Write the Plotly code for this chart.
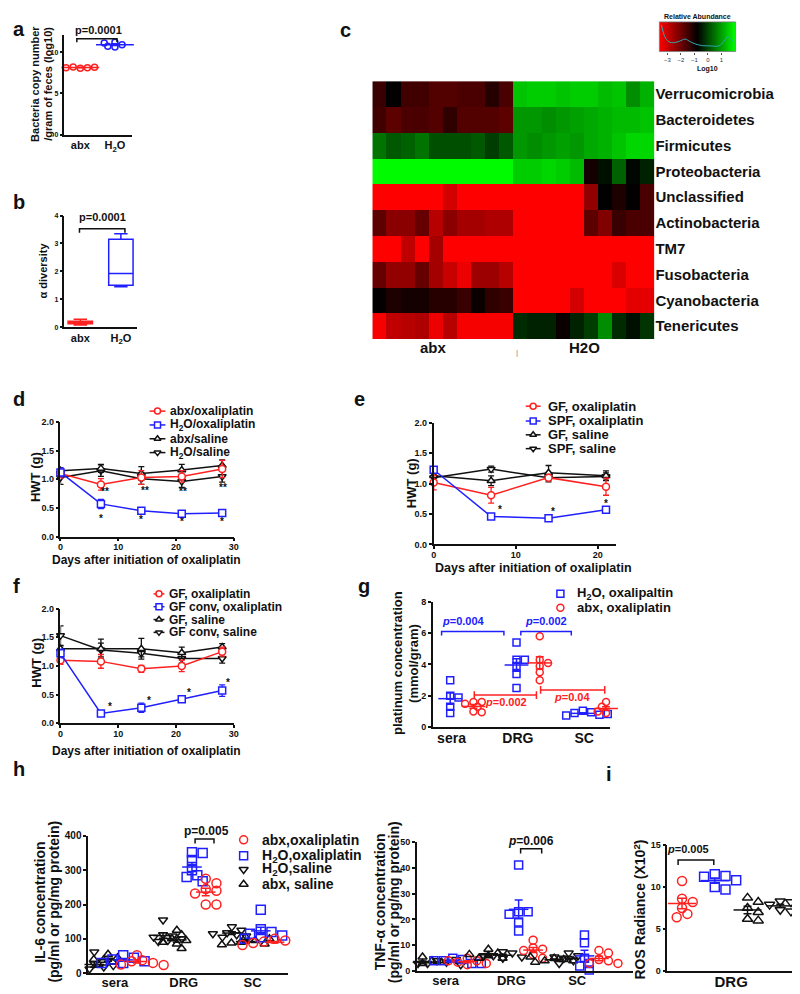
import numpy as np
import plotly.graph_objects as go

# ======================= DATA =======================
# panel a : bacteria copy number (log10 / gram feces)
a_groups = ["abx", "H<sub>2</sub>O"]
a_abx = [8.05, 8.1, 8.2, 8.15, 8.1]
a_h2o = [10.6, 10.9, 11.2, 10.7, 11.1]

# panel b : alpha diversity (box summaries)
b_groups = ["abx", "H<sub>2</sub>O"]
b_lowerfence = [0.08, 1.45]
b_q1 = [0.12, 1.50]
b_median = [0.16, 1.92]
b_q3 = [0.21, 3.15]
b_upperfence = [0.28, 3.35]

# panel c : heatmap log10 relative abundance (10 abx samples, 10 H2O samples)
c_phyla = ["Verrucomicrobia", "Bacteroidetes", "Firmicutes", "Proteobacteria", "Unclassified",
           "Actinobacteria", "TM7", "Fusobacteria", "Cyanobacteria", "Tenericutes"]
c_abx = [
    [-1.4, -0.8, -1.5, -1.5, -1.7, -1.7, -1.6, -1.6, -1.2, -1.6],
    [-1.5, -1.8, -1.6, -1.6, -1.7, -1.3, -1.7, -1.7, -1.7, -1.8],
    [0.5, 0.2, 0.3, 0.5, 0.1, 0.1, 0.1, 0.2, -0.1, 0.2],
    [2.0, 2.0, 2.0, 2.0, 2.0, 2.0, 2.0, 2.0, 2.0, 2.0],
    [-3.6, -3.6, -3.6, -3.6, -3.6, -3.1, -3.6, -3.6, -3.6, -3.6],
    [-1.8, -2.3, -2.3, -1.9, -2.8, -2.3, -2.6, -2.6, -2.7, -2.7],
    [-3.6, -3.6, -2.9, -3.6, -2.6, -3.6, -3.6, -3.6, -3.6, -3.6],
    [-1.9, -2.4, -2.4, -1.9, -2.6, -3.0, -3.4, -2.5, -2.5, -2.8],
    [-0.8, -1.1, -1.0, -1.0, -1.2, -1.2, -1.4, -0.9, -1.3, -1.4],
    [-3.5, -2.9, -2.8, -2.7, -3.4, -2.8, -3.5, -3.5, -3.5, -3.5],
]
c_h2o = [
    [1.4, 1.5, 1.5, 1.4, 1.5, 1.5, 1.3, 1.4, 0.8, 1.2],
    [0.9, 0.9, 0.8, 0.9, 1.0, 1.1, 1.2, 1.3, 1.3, 1.4],
    [0.9, 0.8, 0.9, 1.0, 0.9, 1.1, 1.2, 1.4, 1.6, 1.6],
    [1.5, 1.5, 1.6, 1.5, 1.3, -1.0, -0.6, 0.3, -0.7, -0.4],
    [-3.6, -3.6, -3.6, -3.6, -3.6, -2.4, -0.8, -1.1, -0.8, -1.6],
    [-3.6, -3.6, -3.6, -3.6, -3.6, -1.8, -2.2, -1.4, -1.6, -1.6],
    [-3.6, -3.6, -3.6, -3.6, -3.6, -3.6, -3.6, -3.6, -3.6, -3.6],
    [-3.6, -3.6, -3.6, -3.6, -3.6, -3.6, -3.6, -3.2, -3.6, -3.6],
    [-3.6, -3.6, -3.6, -3.6, -3.1, -3.6, -3.6, -3.6, -3.3, -3.3],
    [-0.3, -0.4, -0.4, -0.9, -0.4, -0.1, 0.8, -0.3, -0.6, -0.2],
]
c_density_x = [-3.45, -3.2, -2.9, -2.5, -2.1, -1.7, -1.3, -0.9, -0.4, 0.2, 0.8, 1.2, 1.45, 1.7, 1.95]
c_density_y = [0.9, 0.5, 0.33, 0.3, 0.35, 0.42, 0.33, 0.25, 0.2, 0.19, 0.19, 0.35, 0.5, 0.42, 0.3]

# panel d
d_days = [0, 7, 14, 21, 28]
d_abx_oxa = [1.10, 0.91, 1.03, 1.05, 1.18]
d_abx_oxa_err = [0.08, 0.10, 0.12, 0.10, 0.15]
d_h2o_oxa = [1.12, 0.57, 0.45, 0.40, 0.41]
d_h2o_oxa_err = [0.08, 0.08, 0.03, 0.03, 0.04]
d_abx_sal = [1.15, 1.19, 1.10, 1.16, 1.24]
d_abx_sal_err = [0.05, 0.07, 0.12, 0.10, 0.10]
d_h2o_sal = [1.03, 1.15, 1.01, 0.96, 1.05]
d_h2o_sal_err = [0.12, 0.10, 0.10, 0.10, 0.10]

# panel e
e_days = [0, 7, 14, 21]
e_gf_oxa = [1.02, 0.81, 1.10, 0.95]
e_gf_oxa_err = [0.12, 0.13, 0.03, 0.14]
e_spf_oxa = [1.23, 0.46, 0.43, 0.57]
e_spf_oxa_err = [0.03, 0.02, 0.04, 0.03]
e_gf_sal = [1.13, 1.05, 1.18, 1.13]
e_gf_sal_err = [0.05, 0.08, 0.12, 0.08]
e_spf_sal = [1.10, 1.24, 1.10, 1.12]
e_spf_sal_err = [0.05, 0.05, 0.07, 0.06]

# panel f
f_days = [0, 7, 14, 21, 28]
f_gf_oxa = [1.10, 1.08, 0.95, 1.00, 1.25]
f_gf_oxa_err = [0.07, 0.12, 0.06, 0.10, 0.08]
f_conv_oxa = [1.22, 0.17, 0.27, 0.42, 0.57]
f_conv_oxa_err = [0.08, 0.04, 0.08, 0.04, 0.10]
f_gf_sal = [1.30, 1.30, 1.30, 1.23, 1.33]
f_gf_sal_err = [0.05, 0.17, 0.18, 0.10, 0.06]
f_conv_sal = [1.53, 1.28, 1.22, 1.13, 1.13]
f_conv_sal_err = [0.17, 0.12, 0.06, 0.08, 0.08]

# panel g : platinum concentration (mmol/gram)
g_tissues = ["sera", "DRG", "SC"]
g_h2o = [[3.0, 2.0, 1.9, 1.3, 0.9], [5.4, 4.3, 4.3, 3.9, 3.4, 2.5], [1.05, 0.95, 0.9, 0.8, 0.75, 0.85]]
g_abx = [[1.6, 1.6, 1.5, 1.3, 1.0, 0.95], [5.8, 4.3, 4.1, 3.9, 3.5, 3.0], [1.6, 1.5, 1.3, 1.2, 1.0, 0.9, 0.85]]

# panel h : IL-6
h_tissues = ["sera", "DRG", "SC"]
il6_h2o_sal = [[62, 28, 18, 12, 10, 22], [155, 112, 108, 105, 100, 95, 92], [135, 125, 118, 112, 108, 105, 115]]
il6_abx_sal = [[55, 45, 38, 32, 25, 40], [125, 112, 100, 95, 90, 85, 72], [105, 95, 90, 88, 85, 83, 100]]
il6_h2o_oxa = [[52, 45, 40, 35, 30, 30], [352, 350, 330, 300, 285, 280, 268], [185, 128, 120, 115, 110, 105, 100]]
il6_abx_oxa = [[52, 38, 35, 30, 25, 24], [275, 262, 245, 240, 232, 200, 200], [100, 95, 92, 90, 88, 85, 82]]

# panel h : TNF-alpha
tnf_abx_sal = [[5.5, 4, 3, 2.5, 3.5, 2], [8.5, 7, 6, 5, 5, 6.5], [5, 4.5, 4, 4, 3.5, 5.5]]
tnf_h2o_sal = [[4, 3.5, 3, 4.5, 3, 2.5], [7.5, 7, 6, 5.5, 5, 6], [7, 6, 5, 4, 3, 5.5]]
tnf_h2o_oxa = [[5, 4.5, 4, 3, 4, 3], [41, 23, 23, 22, 19, 15.5], [14, 11, 5, 3, 2, 0.5]]
tnf_abx_oxa = [[5, 4, 3.5, 3, 2.5, 4], [12, 9, 8.5, 8, 6.5, 5], [8, 7, 4.5, 4, 3, 3]]

# panel i : ROS radiance (x10^2) in DRG
i_abx_oxa = [10.7, 8.6, 8.2, 7.5, 6.8, 6.4]
i_h2o_oxa = [11.5, 11.3, 11.2, 10.8, 10.0, 9.7]
i_abx_sal = [8.7, 8.2, 7.5, 7.0, 6.2, 6.0]
i_h2o_sal = [8.3, 8.2, 7.9, 7.7, 7.3, 7.1]

# ======================= STYLE / LAYOUT =======================
# The html body has an 8px margin, so the figure is sized to fill the rest of the
# 800x994 window and all positions below are given in window pixels.
PAGE_W, PAGE_H = 800, 994
OX, OY = 8, 8
FW, FH = PAGE_W - OX, PAGE_H - OY
FONT = "Arial, Liberation Sans, sans-serif"
RED = "#ff2020"
BLUE = "#2020ff"
BLACK = "#111111"

fig = go.Figure()
layout = dict(width=FW, height=FH, margin=dict(l=0, r=0, t=0, b=0),
              paper_bgcolor="white", plot_bgcolor="rgba(0,0,0,0)", showlegend=False,
              font=dict(family=FONT, color=BLACK))
annotations = []
shapes = []


def px(x):
    return (x - OX) / FW


def py(y):
    return 1 - (y - OY) / FH


def tf(size, color=BLACK, weight="bold"):
    return dict(family=FONT, size=size, color=color, weight=weight)


AXBASE = dict(showline=True, linecolor=BLACK, linewidth=1.5, ticks="outside", ticklen=3,
              tickwidth=1.5, tickcolor=BLACK, showgrid=False, zeroline=False, fixedrange=True)

_n = [0]


def new_axes(x0, x1, y0, y1, xr, yr, xstyle=None, ystyle=None):
    _n[0] += 1
    s = "" if _n[0] == 1 else str(_n[0])
    xa = dict(AXBASE, domain=[max(px(x0), 0), min(px(x1), 1)], range=xr, anchor="y" + s, tickfont=tf(9))
    ya = dict(AXBASE, domain=[max(py(y1), 0), min(py(y0), 1)], range=yr, anchor="x" + s, tickfont=tf(9))
    if xstyle:
        xa.update(xstyle)
    if ystyle:
        ya.update(ystyle)
    layout["xaxis" + s] = xa
    layout["yaxis" + s] = ya
    kx = (x1 - x0) / (xr[1] - xr[0])
    ky = (y1 - y0) / abs(yr[1] - yr[0])
    return ("x" + s, "y" + s, kx, ky)


def ann(text, x, y, size=12, color=BLACK, weight="bold", angle=0, xanchor="center", yanchor="middle"):
    annotations.append(dict(text=text, x=px(x), y=py(y), xref="paper", yref="paper",
                            showarrow=False, textangle=angle, xanchor=xanchor, yanchor=yanchor,
                            font=tf(size, color, weight)))


def dann(ax, text, x, y, size=11, color=BLACK):
    annotations.append(dict(text=text, x=x, y=y, xref=ax[0], yref=ax[1], showarrow=False,
                            xanchor="center", yanchor="middle", font=tf(size, color)))


def swarm_x(values, center, kx, ky, diam):
    placed, xs = [], []
    step = diam * 0.6
    for v in values:
        yv = v * ky
        c = 0.0
        for i in range(0, 60):
            c = 0.0 if i == 0 else ((i + 1) // 2) * step * (1 if i % 2 else -1)
            if all((c - qx) ** 2 + (yv - qy) ** 2 >= (0.8 * diam) ** 2 for qx, qy in placed):
                break
        placed.append((c, yv))
        xs.append(center + c / kx)
    return xs


def dots(ax, values, center, color, symbol, size, mean_w, show_mean=True):
    xa, ya, kx, ky = ax
    xs = swarm_x(values, center, kx, ky, size)
    fig.add_trace(go.Scatter(x=xs, y=values, mode="markers", xaxis=xa, yaxis=ya, cliponaxis=False,
                             marker=dict(symbol=symbol + "-open", size=size, color=color,
                                         line=dict(width=1.5, color=color)), hoverinfo="skip"))
    if show_mean:
        m = float(np.mean(values))
        s = float(np.std(values, ddof=1) / np.sqrt(len(values)))
        fig.add_trace(go.Scatter(x=[center], y=[m], mode="markers", xaxis=xa, yaxis=ya, cliponaxis=False,
                                 marker=dict(symbol="line-ew", size=mean_w, color=color,
                                             line=dict(width=1.5, color=color)),
                                 error_y=dict(type="data", array=[s], color=color, thickness=1.5, width=4),
                                 hoverinfo="skip"))


def bracket(ax, x0, x1, y, drop, color=BLACK, both=False):
    if both:
        xs = [x0, x0, None, x0, x1, None, x1, x1]
        ys = [y - drop, y + drop, None, y, y, None, y - drop, y + drop]
    else:
        xs = [x0, x0, x1, x1]
        ys = [y - drop, y, y, y - drop]
    fig.add_trace(go.Scatter(x=xs, y=ys, mode="lines", xaxis=ax[0], yaxis=ax[1],
                             line=dict(color=color, width=1.5), hoverinfo="skip"))


def series(ax, x, y, err, color, symbol):
    fig.add_trace(go.Scatter(x=x, y=y, mode="lines+markers", xaxis=ax[0], yaxis=ax[1], cliponaxis=False,
                             line=dict(color=color, width=1.5),
                             marker=dict(symbol=symbol, size=7, color="white", line=dict(color=color, width=1.5)),
                             error_y=dict(type="data", array=err, color=color, thickness=1.3, width=3),
                             hoverinfo="skip"))


cat_x = dict(ticks="")

# ---------------- panel a ----------------
axA = new_axes(62, 130, 29, 130, [-0.457, 1.486], [0, 12.1],
               xstyle=dict(cat_x, tickvals=[0, 1], ticktext=a_groups, tickfont=tf(11)),
               ystyle=dict(tickvals=[0, 5, 10], tickfont=tf(7)))
dots(axA, a_abx, 0, RED, "circle", 6, 27)
dots(axA, a_h2o, 1, BLUE, "circle", 6, 27)
bracket(axA, -0.1, 1.06, 11.6, 0.4)
ann("p=0.0001", 96, 24, 11)
ann("Bacteria copy number", 32, 79, 11, angle=-90)
ann("/gram of feces (log10)", 46, 79, 11, angle=-90)
ann("a", 8, 23, 20, xanchor="left")

# ---------------- panel b ----------------
axB = new_axes(62, 135, 212, 325, [-0.39, 1.39], [0, 4],
               xstyle=dict(cat_x, tickvals=[0, 1], ticktext=b_groups, tickfont=tf(11)),
               ystyle=dict(tickvals=[0, 1, 2, 3, 4], tickfont=tf(7)))
for k, col in enumerate([RED, BLUE]):
    fig.add_trace(go.Box(x=[k], q1=[b_q1[k]], median=[b_median[k]], q3=[b_q3[k]],
                         lowerfence=[b_lowerfence[k]], upperfence=[b_upperfence[k]],
                         xaxis=axB[0], yaxis=axB[1], width=0.6, whiskerwidth=0.55,
                         line=dict(color=col, width=1.5), fillcolor="white", boxpoints=False,
                         hoverinfo="skip"))
bracket(axB, -0.02, 1.1, 3.53, 0.15)
ann("p=0.0001", 100, 213, 11)
ann("α diversity", 40, 268, 11, angle=-90)
ann("b", 8, 198, 20, xanchor="left")

# ---------------- panel c ----------------
ZMIN, ZMAX = -3.6, 2.05
CSCALE = [[0, "#ff0000"], [0.5, "#000000"], [1, "#00ff00"]]
axC = new_axes(373, 658, 76, 337, [-0.5, 19.5], [9.5, -0.5],
               xstyle=dict(showline=False, ticks="", showticklabels=False),
               ystyle=dict(showline=False, ticks="", side="right", tickfont=tf(15), type="category"))
c_z = [ab + h2 for ab, h2 in zip(c_abx, c_h2o)]
fig.add_trace(go.Heatmap(z=c_z, x=list(range(20)), y=c_phyla, colorscale=CSCALE, zmin=ZMIN, zmax=ZMAX,
                         showscale=False, xaxis=axC[0], yaxis=axC[1], hoverinfo="skip"))
ann("abx", 435, 346, 15)
ann("H2O", 587, 346, 15)
ann("|", 519, 351, 8, color="#888888", weight="normal")
ann("c", 346, 24, 20)

axCB = new_axes(663, 740, 16, 46, [ZMIN, ZMAX], [0, 1],
                xstyle=dict(showline=False, tickvals=[-3, -2, -1, 0, 1], ticklen=2, tickwidth=0.8,
                            tickcolor="#555555", tickfont=tf(6, "#333333", "normal")),
                ystyle=dict(visible=False))
scale_vals = list(np.linspace(ZMIN, ZMAX, 120))
fig.add_trace(go.Heatmap(z=[scale_vals], x=scale_vals, y=[0.5], colorscale=CSCALE, zmin=ZMIN, zmax=ZMAX,
                         showscale=False, xaxis=axCB[0], yaxis=axCB[1], hoverinfo="skip"))
fig.add_trace(go.Scatter(x=c_density_x, y=c_density_y, mode="lines", xaxis=axCB[0], yaxis=axCB[1],
                         line=dict(color="#2fa8b0", width=1, shape="spline"), hoverinfo="skip"))
shapes.append(dict(type="rect", xref="paper", yref="paper", x0=px(663), x1=px(740),
                   y0=py(46), y1=py(16), line=dict(color="#777777", width=0.8)))
ann("Relative Abundance", 701, 11, 7)
ann("Log10", 712, 64, 7)

# ---------------- panel d ----------------
XT_UP = dict(ticklabelstandoff=-2)
axD = new_axes(58, 233, 421, 537, [0, 30], [0, 2],
               xstyle=dict(XT_UP, tickvals=[0, 10, 20, 30]),
               ystyle=dict(tickvals=[0, 0.5, 1, 1.5, 2], tickformat=".1f"))
series(axD, d_days, d_h2o_sal, d_h2o_sal_err, BLACK, "triangle-down")
series(axD, d_days, d_abx_sal, d_abx_sal_err, BLACK, "triangle-up")
series(axD, d_days, d_abx_oxa, d_abx_oxa_err, RED, "circle")
series(axD, d_days, d_h2o_oxa, d_h2o_oxa_err, BLUE, "square")
for dx, dy in zip([7.7, 14.6, 21.2, 28.2], [0.78, 0.81, 0.79, 0.85]):
    dann(axD, "**", dx, dy, 10)
for dx, dy in zip([7, 14, 21, 28], [0.31, 0.3, 0.27, 0.27]):
    dann(axD, "*", dx, dy, 10)
ann("HWT (g)", 33, 477, 13, angle=-90)
ann("Days after initiation of oxaliplatin", 145, 561, 12)
ann("d", 8, 398, 20, xanchor="left")

# ---------------- panel e ----------------
axE = new_axes(435, 619, 422, 545, [0, 22.2], [0, 2],
               xstyle=dict(XT_UP, tickvals=[0, 10, 20]),
               ystyle=dict(tickvals=[0, 0.5, 1, 1.5, 2], tickformat=".1f"))
series(axE, e_days, e_spf_sal, e_spf_sal_err, BLACK, "triangle-down")
series(axE, e_days, e_gf_sal, e_gf_sal_err, BLACK, "triangle-up")
series(axE, e_days, e_gf_oxa, e_gf_oxa_err, RED, "circle")
series(axE, e_days, e_spf_oxa, e_spf_oxa_err, BLUE, "square")
for dx, dy in zip([8.1, 14.6, 21], [0.57, 0.54, 0.68]):
    dann(axE, "*", dx, dy, 10)
ann("HWT (g)", 412, 483, 13, angle=-90)
ann("Days after initiation of oxaliplatin", 536, 569, 12.5)
ann("e", 352, 398, 20, xanchor="left")

# ---------------- panel f ----------------
axF = new_axes(58, 233, 610, 726, [0, 30], [0, 2],
               xstyle=dict(XT_UP, tickvals=[0, 10, 20, 30]),
               ystyle=dict(tickvals=[0, 0.5, 1, 1.5, 2], tickformat=".1f"))
series(axF, f_days, f_conv_sal, f_conv_sal_err, BLACK, "triangle-down")
series(axF, f_days, f_gf_sal, f_gf_sal_err, BLACK, "triangle-up")
series(axF, f_days, f_gf_oxa, f_gf_oxa_err, RED, "circle")
series(axF, f_days, f_conv_oxa, f_conv_oxa_err, BLUE, "square")
for dx, dy in zip([8.6, 15.4, 22.3, 29], [0.3, 0.39, 0.54, 0.71]):
    dann(axF, "*", dx, dy, 10)
ann("HWT (g)", 33, 665, 13, angle=-90)
ann("Days after initiation of oxaliplatin", 145, 754, 12)
ann("f", 8, 587, 20, xanchor="left")

# ---------------- panel g ----------------
axG = new_axes(434, 613, 603, 730, [-0.284, 2.388], [0, 8],
               xstyle=dict(cat_x, ticklabelstandoff=-3, tickvals=[0, 1, 2], ticktext=g_tissues, tickfont=tf(14)),
               ystyle=dict(tickvals=[0, 2, 4, 6, 8], tickfont=tf(9)))
for k in range(3):
    dots(axG, g_h2o[k], k - 0.02, BLUE, "square", 7, 17)
    dots(axG, g_abx[k], k + 0.33, RED, "circle", 7, 17)
bracket(axG, -0.15, 0.79, 6.1, 0.25, BLUE)
dann(axG, "<i>p</i>=0.004", 0.18, 6.8, 11, BLUE)
bracket(axG, 1.045, 1.806, 6.1, 0.25, BLUE)
dann(axG, "<i>p</i>=0.002", 1.42, 6.8, 11, BLUE)
bracket(axG, 0.343, 1.28, 2.05, 0.25, RED, both=True)
dann(axG, "<i>p</i>=0.002", 0.82, 1.62, 11, RED)
bracket(axG, 1.343, 2.31, 2.38, 0.25, RED, both=True)
dann(axG, "<i>p</i>=0.04", 1.82, 1.95, 11, RED)
ann("platinum concentration", 398, 665, 13, angle=-90)
ann("(mmol/gram)", 414, 665, 13, angle=-90)
ann("g", 357, 587, 20, xanchor="left")

# ---------------- panel h (IL-6) ----------------
XB = dict(cat_x, ticklabelstandoff=-4)
axH = new_axes(86, 288, 840, 979, [-0.388, 2.518], [0, 400],
               xstyle=dict(XB, tickvals=[0, 1, 2], ticktext=h_tissues, tickfont=tf(13)),
               ystyle=dict(tickvals=[0, 100, 200, 300, 400], tickfont=tf(10)))
for k in range(3):
    dots(axH, il6_h2o_sal[k], k - 0.30, BLACK, "triangle-down", 8, 14)
    dots(axH, il6_abx_sal[k], k - 0.10, BLACK, "triangle-up", 8, 14)
    dots(axH, il6_h2o_oxa[k], k + 0.12, BLUE, "square", 9, 14)
    dots(axH, il6_abx_oxa[k], k + 0.32, RED, "circle", 9, 14)
bracket(axH, 1.165, 1.44, 391, 13)
ann("p=0.005", 205, 835, 12)
ann("IL-6 concentration", 37, 907, 14, angle=-90)
ann("(pg/ml or pg/mg protein)", 51, 907, 14, angle=-90)
ann("h", 8, 772, 20, xanchor="left")

# ---------------- panel h (TNF-alpha) ----------------
axT = new_axes(418, 636, 846, 977, [-0.436, 2.842], [0, 50],
               xstyle=dict(XB, tickvals=[0, 1, 2], ticktext=h_tissues, tickfont=tf(13)),
               ystyle=dict(tickvals=[0, 10, 20, 30, 40, 50], tickfont=tf(9)))
for k in range(3):
    dots(axT, tnf_abx_sal[k], k - 0.35, BLACK, "triangle-up", 8, 14)
    dots(axT, tnf_h2o_sal[k], k - 0.13, BLACK, "triangle-down", 8, 14)
    dots(axT, tnf_h2o_oxa[k], k + 0.11, BLUE, "square", 8, 14)
    dots(axT, tnf_abx_oxa[k], k + 0.33, RED, "circle", 8, 14)
bracket(axT, 1.14, 1.46, 47.3, 1.8)
ann("<i>p</i>=0.006", 533, 845, 12)
ann("TNF-α concentration", 381, 907, 14, angle=-90)
ann("(pg/ml or pg/mg protein)", 395, 907, 14, angle=-90)

# ---------------- panel i ----------------
axI = new_axes(671, 800, 849, 977, [-0.45, 3.45], [0, 15],
               xstyle=dict(XB, tickvals=[1.5], ticktext=["DRG"], tickfont=tf(15)),
               ystyle=dict(tickvals=[0, 5, 10, 15], tickfont=tf(9)))
dots(axI, i_abx_oxa, 0, RED, "circle", 9, 20)
dots(axI, i_h2o_oxa, 1, BLUE, "square", 9, 20)
dots(axI, i_abx_sal, 2, BLACK, "triangle-up", 9, 20)
dots(axI, i_h2o_sal, 3, BLACK, "triangle-down", 9, 20)
bracket(axI, -0.12, 0.97, 13.2, 0.6)
ann("<i>p</i>=0.005", 692, 853, 11)
ann("ROS Radiance (X10<sup>2</sup>)", 643, 915, 14, angle=-90)
ann("i", 612, 777, 20)

# ---------------- legends (drawn on a window-pixel overlay axis) ----------------
axL = new_axes(OX, PAGE_W, OY, PAGE_H, [OX, PAGE_W], [PAGE_H, OY],
               xstyle=dict(visible=False), ystyle=dict(visible=False))


def legend(rows, lx0, lx1, tx, fsize, entries, with_line=True, msize=6, open_sym=False):
    for ry, (label, color, sym) in zip(rows, entries):
        if with_line:
            fig.add_trace(go.Scatter(x=[lx0, lx1], y=[ry, ry], mode="lines", xaxis=axL[0], yaxis=axL[1],
                                     line=dict(color=color, width=1.5), hoverinfo="skip"))
        mk = dict(symbol=sym + ("-open" if open_sym else ""), size=msize,
                  color=(color if open_sym else "white"), line=dict(color=color, width=1.5))
        fig.add_trace(go.Scatter(x=[(lx0 + lx1) / 2], y=[ry], mode="markers", xaxis=axL[0], yaxis=axL[1],
                                 marker=mk, hoverinfo="skip", cliponaxis=False))
        ann(label, tx, ry, fsize, xanchor="left")


legend([410, 424, 438, 452], 148, 164, 167, 12,
       [("abx/oxaliplatin", RED, "circle"), ("H<sub>2</sub>O/oxaliplatin", BLUE, "square"),
        ("abx/saline", BLACK, "triangle-up"), ("H<sub>2</sub>O/saline", BLACK, "triangle-down")])
legend([405, 420, 434, 448], 528, 543, 548, 13,
       [("GF, oxaliplatin", RED, "circle"), ("SPF, oxaliplatin", BLUE, "square"),
        ("GF, saline", BLACK, "triangle-up"), ("SPF, saline", BLACK, "triangle-down")])
legend([595, 608, 621, 634], 152, 163, 166, 12,
       [("GF, oxaliplatin", RED, "circle"), ("GF conv, oxaliplatin", BLUE, "square"),
        ("GF, saline", BLACK, "triangle-up"), ("GF conv, saline", BLACK, "triangle-down")])
legend([595, 609], 560, 566, 578, 13,
       [("H<sub>2</sub>O, oxalipaltin", BLUE, "square"), ("abx, oxaliplatin", RED, "circle")],
       with_line=False, msize=7, open_sym=True)
legend([844, 860, 874, 889], 240, 246, 260, 14,
       [("abx,oxaliplatin", RED, "circle"), ("H<sub>2</sub>O,oxaliplatin", BLUE, "square"),
        ("H<sub>2</sub>O,saline", BLACK, "triangle-down"), ("abx, saline", BLACK, "triangle-up")],
       with_line=False, msize=8, open_sym=True)

layout["annotations"] = annotations
layout["shapes"] = shapes
fig.update_layout(**layout)
fig.write_html("out.html")
